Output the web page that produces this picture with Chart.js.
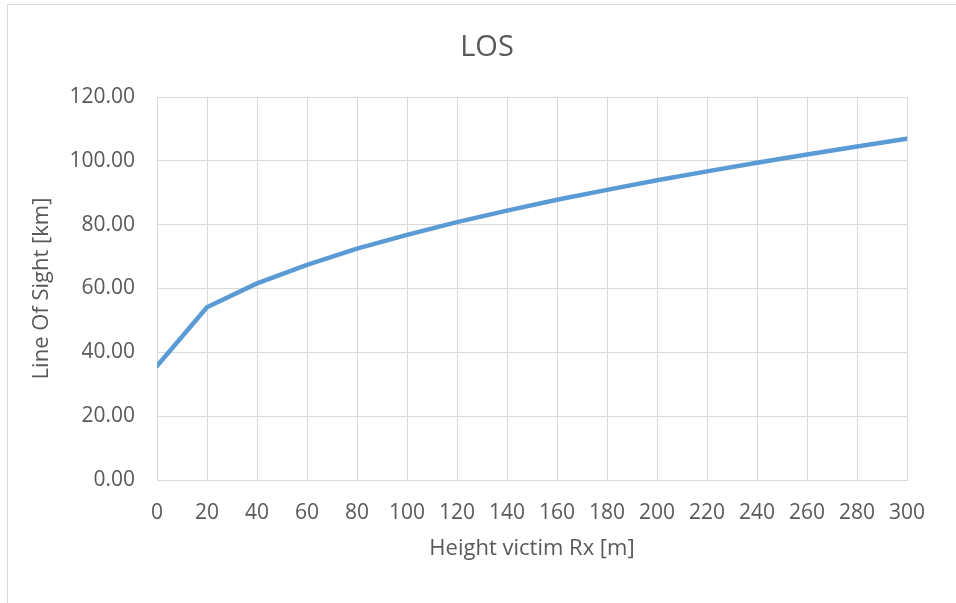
<!DOCTYPE html>
<html>
<head>
<meta charset="utf-8">
<script src="https://cdn.jsdelivr.net/npm/chart.js@4/dist/chart.umd.min.js"></script>
<style>
  html, body { margin: 0; padding: 0; background: #ffffff; }
  #wrap { width: 956px; height: 603px; position: relative; }
</style>
</head>
<body>
<div id="wrap"><canvas id="canvas"></canvas></div>
<script>
var heights = [0, 20, 40, 60, 80, 100, 120, 140, 160, 180, 200, 220, 240, 260, 280, 300];
var losKm = [35.7, 54.1, 61.6, 67.4, 72.5, 76.8, 80.8, 84.4, 87.8, 90.9, 93.9, 96.7, 99.4, 102.0, 104.5, 106.9];

var chartTitle = "LOS";
var xTitle = "Height victim Rx [m]";
var yTitle = "Line Of Sight [km]";

var textColor = "#595959";
var gridColor = "#D9D9D9";
var fontFamily = "'Open Sans', 'Noto Sans', sans-serif";

var points = [];
for (var i = 0; i < heights.length; i++) {
  points.push({ x: heights[i], y: losKm[i] });
}

// frame round the chart, and the title centred on the whole frame (not the plot)
var framePlugin = {
  id: "frame",
  beforeDraw: function (chart) {
    var ctx = chart.ctx;
    ctx.save();
    ctx.fillStyle = "#ffffff";
    ctx.fillRect(0, 0, chart.width, chart.height);
    ctx.strokeStyle = gridColor;
    ctx.lineWidth = 1;
    ctx.strokeRect(7.5, 4.5, chart.width + 10, chart.height + 10);
    ctx.restore();
  },
  afterDraw: function (chart) {
    var ctx = chart.ctx;
    ctx.save();
    ctx.fillStyle = textColor;
    ctx.font = "29px " + fontFamily;
    ctx.textAlign = "center";
    ctx.textBaseline = "middle";
    ctx.fillText(chartTitle, 487, 48);
    ctx.restore();
  }
};

var ctx = document.getElementById("canvas").getContext("2d");
new Chart(ctx, {
  type: "line",
  data: {
    datasets: [{
      label: yTitle,
      data: points,
      borderColor: "#5B9BD5",
      borderWidth: 4.5,
      borderCapStyle: "round",
      borderJoinStyle: "round",
      pointRadius: 0,
      tension: 0,
      fill: false
    }]
  },
  options: {
    responsive: true,
    maintainAspectRatio: false,
    animation: false,
    layout: { padding: { left: 0, right: 49, top: 97, bottom: 0 } },
    plugins: {
      legend: { display: false },
      tooltip: { enabled: false },
      title: { display: false }
    },
    scales: {
      x: {
        type: "linear",
        min: 0,
        max: 300,
        afterFit: function (scale) { scale.height = 123; },
        ticks: {
          stepSize: 20,
          color: textColor,
          padding: 20,
          maxRotation: 0,
          font: { family: fontFamily, size: 21 }
        },
        grid: { color: gridColor, lineWidth: 1, drawTicks: false },
        border: { display: true, color: gridColor },
        title: {
          display: true,
          text: xTitle,
          color: textColor,
          font: { family: fontFamily, size: 22 },
          padding: { top: 0, bottom: 41 }
        }
      },
      y: {
        min: 0,
        max: 120,
        afterFit: function (scale) { scale.width = 157; },
        ticks: {
          stepSize: 20,
          color: textColor,
          padding: 22,
          font: { family: fontFamily, size: 21 },
          callback: function (v) { return v.toFixed(2); }
        },
        grid: { color: gridColor, lineWidth: 1, drawTicks: false },
        border: { display: true, color: gridColor },
        title: {
          display: true,
          text: yTitle,
          color: textColor,
          font: { family: fontFamily, size: 22 },
          padding: { top: 29, bottom: 0 }
        }
      }
    }
  },
  plugins: [framePlugin]
});
</script>
</body>
</html>
